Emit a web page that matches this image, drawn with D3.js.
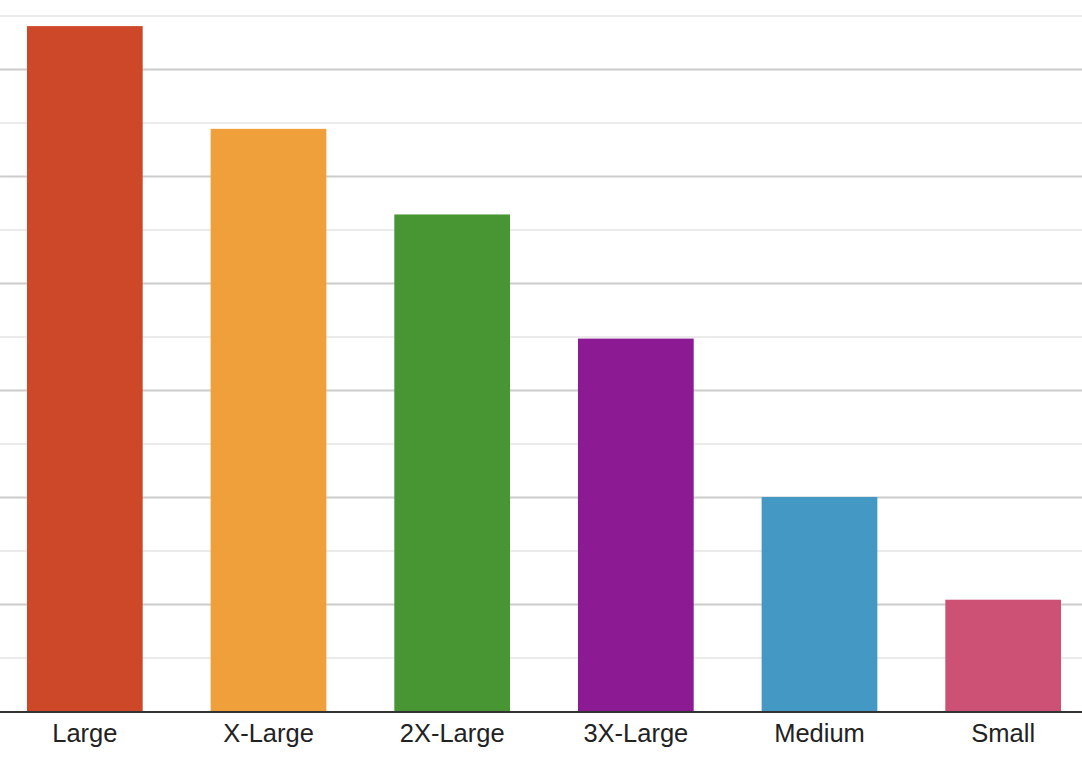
<!DOCTYPE html>
<html>
<head>
<meta charset="utf-8">
<script src="https://cdn.jsdelivr.net/npm/d3@7/dist/d3.min.js"></script>
<style>
  html, body { margin: 0; padding: 0; background: #fff; }
  svg { display: block; }
</style>
</head>
<body>
<svg id="chart" width="1082" height="762"></svg>
<script>
const categories = ["Large", "X-Large", "2X-Large", "3X-Large", "Medium", "Small"];
const values = [320, 272, 232, 174, 100, 52];
const colors = ["#cc4828", "#f0a03a", "#489533", "#8b1a93", "#4398c4", "#cc5175"];
const majorTicks = [50, 100, 150, 200, 250, 300];
const minorTicks = [25, 75, 125, 175, 225, 275, 325];

const W = 1082, H = 762;
const svg = d3.select("#chart");

const x = d3.scaleBand()
  .domain(categories)
  .range([-7, 1095])
  .paddingInner(0.37)
  .paddingOuter(0.185);

const y = d3.scaleLinear()
  .domain([0, 332.2])
  .range([711, 0]);

// minor gridlines
svg.append("g").selectAll("line").data(minorTicks).join("line")
  .attr("x1", 0).attr("x2", W)
  .attr("y1", d => y(d) + 0.5).attr("y2", d => y(d) + 0.5)
  .attr("stroke", "#ebebeb").attr("stroke-width", 2);

// major gridlines
svg.append("g").selectAll("line").data(majorTicks).join("line")
  .attr("x1", 0).attr("x2", W)
  .attr("y1", d => y(d) + 0.5).attr("y2", d => y(d) + 0.5)
  .attr("stroke", "#cccccc").attr("stroke-width", 2);

// bars
svg.append("g").selectAll("rect").data(categories).join("rect")
  .attr("x", d => x(d))
  .attr("width", x.bandwidth())
  .attr("y", (d, i) => y(values[i]))
  .attr("height", (d, i) => y(0) - y(values[i]))
  .attr("fill", (d, i) => colors[i]);

// x axis
const xAxis = d3.axisBottom(x).tickSize(0).tickPadding(0);
const gx = svg.append("g").attr("transform", `translate(0,${y(0) + 1})`).call(xAxis);
gx.select(".domain").remove();
gx.append("line")
  .attr("x1", 0).attr("x2", W).attr("y1", 0).attr("y2", 0)
  .attr("stroke", "#333").attr("stroke-width", 2);
gx.selectAll(".tick text")
  .attr("font-family", "'Liberation Sans', Arial, Helvetica, sans-serif")
  .attr("font-size", 25.5)
  .attr("fill", "#222")
  .attr("dy", 0)
  .attr("y", 30);
</script>
</body>
</html>
